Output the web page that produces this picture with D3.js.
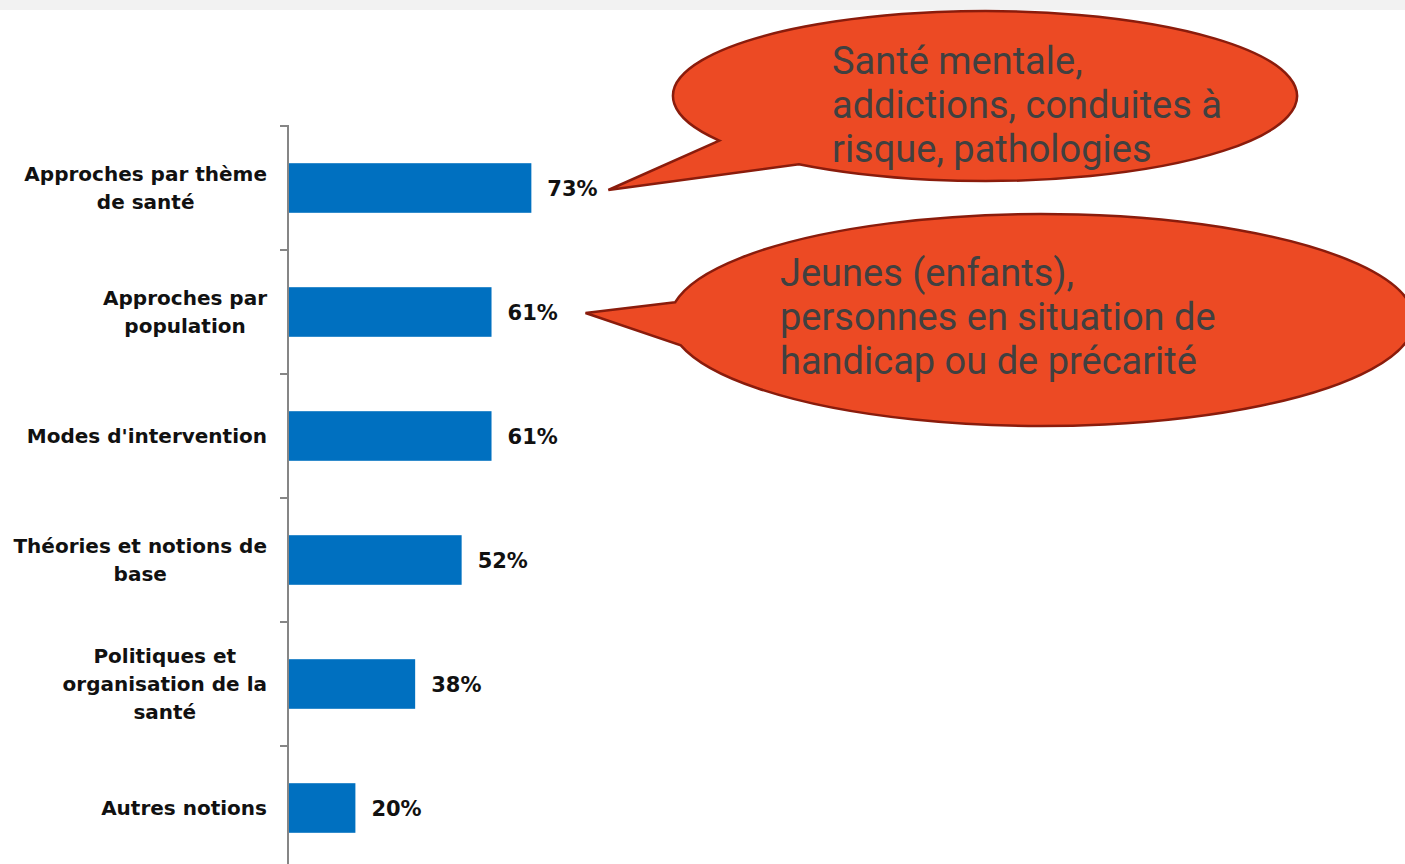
<!DOCTYPE html>
<html>
<head>
<meta charset="utf-8">
<script src="https://cdn.jsdelivr.net/npm/d3@7"></script>
<style>
  body { margin: 0; background: #fff; }
  svg { display: block; }
</style>
</head>
<body>
<div id="chart"></div>
<script>
// data
const categories = [
  "Approches par thème\nde santé",
  "Approches par\npopulation",
  "Modes d'intervention",
  "Théories et notions de\nbase",
  "Politiques et\norganisation de la\nsanté",
  "Autres notions"
];
const values = [73, 61, 61, 52, 38, 20];
const callout1 = ["Santé mentale,", "addictions, conduites à", "risque, pathologies"];
const callout2 = ["Jeunes (enfants),", "personnes en situation de", "handicap ou de précarité"];

const width = 1405, height = 864;
const svg = d3.select("#chart").append("svg")
  .attr("width", width)
  .attr("height", height);

// grey band on top
svg.append("rect")
  .attr("x", 0).attr("y", 0)
  .attr("width", width).attr("height", 10)
  .attr("fill", "#f2f2f2");

const axisX = 289;
const y = d3.scaleBand()
  .domain(categories)
  .range([126, 870])
  .paddingInner(0.6)
  .paddingOuter(0.3);

const x = d3.scaleLinear()
  .domain([0, 100])
  .range([axisX, axisX + 332]);

// bars
svg.selectAll(".bar")
  .data(values)
  .join("rect")
  .attr("class", "bar")
  .attr("x", x(0))
  .attr("y", (d, i) => y(categories[i]))
  .attr("width", d => x(d) - x(0))
  .attr("height", y.bandwidth())
  .attr("fill", "#0070c0");

// value labels
svg.selectAll(".val")
  .data(values)
  .join("text")
  .attr("class", "val")
  .attr("x", d => x(d) + 16)
  .attr("y", (d, i) => y(categories[i]) + y.bandwidth() / 2)
  .attr("dy", "0.36em")
  .style("font-family", "'DejaVu Sans', sans-serif")
  .style("font-weight", "bold")
  .style("font-size", "21px")
  .attr("fill", "#111")
  .text(d => d + "%");

// vertical axis with ticks at the band boundaries
const step = y.step();
const boundaries = d3.range(categories.length + 1).map(i => 126 + i * step);
svg.append("line")
  .attr("x1", axisX - 1).attr("x2", axisX - 1)
  .attr("y1", 125).attr("y2", height)
  .attr("stroke", "#868686")
  .attr("stroke-width", 2);
svg.selectAll(".tick")
  .data(boundaries)
  .join("line")
  .attr("class", "tick")
  .attr("x1", axisX - 9).attr("x2", axisX - 1)
  .attr("y1", d => d).attr("y2", d => d)
  .attr("stroke", "#868686")
  .attr("stroke-width", 2);

// category labels: block right aligned, lines centered inside
const lineH = 28;
categories.forEach(function (c) {
  const lines = c.split("\n");
  const g = svg.append("g");
  const cy = y(c) + y.bandwidth() / 2;
  const t = g.selectAll("text")
    .data(lines)
    .join("text")
    .attr("y", (d, i) => cy + (i - (lines.length - 1) / 2) * lineH)
    .attr("dy", "0.36em")
    .attr("text-anchor", "middle")
    .style("font-family", "'DejaVu Sans', sans-serif")
    .style("font-weight", "bold")
    .style("font-size", "20px")
    .attr("fill", "#111")
    .text(d => d);
  let maxW = 0;
  t.each(function () { maxW = Math.max(maxW, this.getComputedTextLength()); });
  t.attr("x", 267 - maxW / 2);
});

// speech bubbles: ellipse with a pointed tail, a1/a2 are the tail's base angles
function bubble(cx, cy, rx, ry, a1, a2, tip) {
  const p1 = [cx + rx * Math.cos(a1), cy + ry * Math.sin(a1)];
  const p2 = [cx + rx * Math.cos(a2), cy + ry * Math.sin(a2)];
  return `M${p1[0]},${p1[1]} L${tip[0]},${tip[1]} L${p2[0]},${p2[1]} A${rx},${ry} 0 1 0 ${p1[0]},${p1[1]} Z`;
}

function drawCallout(cx, cy, rx, ry, a1, a2, tip, lines, tx, ty) {
  svg.append("path")
    .attr("d", bubble(cx, cy, rx, ry, a1, a2, tip))
    .attr("fill", "#ec4a24")
    .attr("stroke", "#8a1c0c")
    .attr("stroke-width", 2.5)
    .attr("stroke-linejoin", "miter");
  svg.append("g").selectAll("text")
    .data(lines)
    .join("text")
    .attr("x", tx)
    .attr("y", (d, i) => ty + i * 44)
    .style("font-family", "Roboto, 'Liberation Sans', sans-serif")
    .style("font-size", "38px")
    .attr("fill", "#404040")
    .text(d => d);
}

// tips point at the value labels of the first two bars
const tip1 = [x(values[0]) + 77, y(categories[0]) + y.bandwidth() / 2 + 2];
const tip2 = [x(values[1]) + 94, y(categories[1]) + y.bandwidth() / 2 + 1];

drawCallout(985, 96, 312, 85, 2.59, 2.21, tip1, callout1, 832, 74);
drawCallout(1042, 320, 372, 106, 3.31, 2.90, tip2, callout2, 780, 286);
</script>
</body>
</html>
